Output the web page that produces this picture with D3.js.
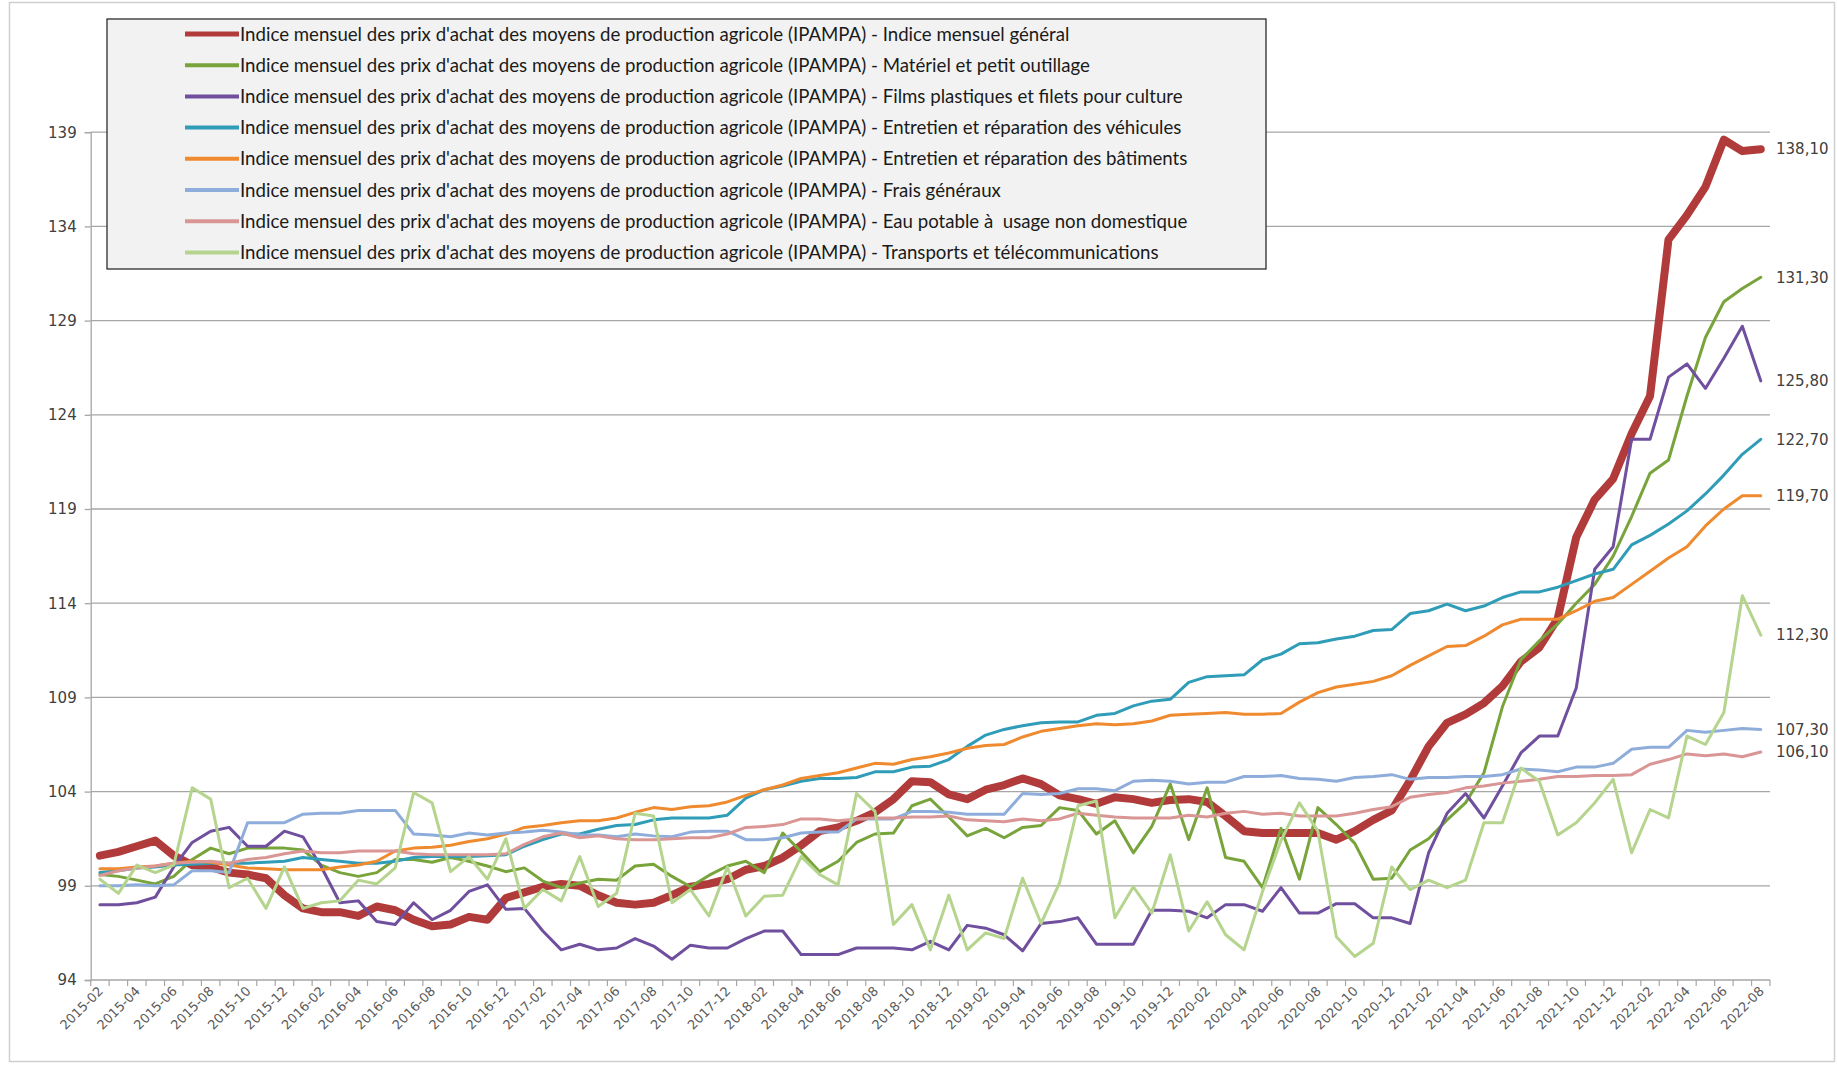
<!DOCTYPE html>
<html>
<head>
<meta charset="utf-8">
<script src="https://cdn.jsdelivr.net/npm/d3@7"></script>
<style>
  body { margin: 0; background: #fff; }
</style>
</head>
<body>
<script>
// months from 2015-02 to 2022-08
const months = d3.timeMonth.range(new Date(2015, 1, 1), new Date(2022, 8, 1)).map(d3.timeFormat("%Y-%m"));
const yTicks = [94, 99, 104, 109, 114, 119, 124, 129, 134, 139];

const prefix = "Indice mensuel des prix d'achat des moyens de production agricole (IPAMPA) - ";
const seriesNames = [
  "Indice mensuel général",
  "Matériel et petit outillage",
  "Films plastiques et filets pour culture",
  "Entretien et réparation des véhicules",
  "Entretien et réparation des bâtiments",
  "Frais généraux",
  "Eau potable à  usage non domestique",
  "Transports et télécommunications"
];

const general = [100.6,100.8,101.1,101.4,100.6,100.1,100.0,99.7,99.6,99.4,98.5,97.8,97.6,97.6,97.4,97.9,
  97.7,97.2,96.85,96.95,97.35,97.2,98.35,98.65,98.95,99.1,99.0,98.5,98.1,98.0,98.1,98.5,
  98.95,99.1,99.35,99.85,100.05,100.5,101.15,101.9,102.1,102.45,102.9,103.6,104.55,104.5,103.85,103.6,
  104.1,104.35,104.7,104.4,103.8,103.6,103.35,103.7,103.6,103.4,103.55,103.6,103.45,102.7,101.9,101.8,
  101.8,101.8,101.8,101.45,101.9,102.5,103.0,104.6,106.4,107.65,108.1,108.7,109.6,110.9,111.65,113.2,
  117.5,119.5,120.6,123.0,125.0,133.3,134.6,136.1,138.6,138.0,138.1];

const materiel = [99.6,99.5,99.3,99.1,99.5,100.4,101.0,100.7,101.0,101.0,101.0,100.9,100.1,99.7,99.5,99.7,
  100.4,100.4,100.25,100.5,100.3,100.05,99.75,99.95,99.25,98.9,99.15,99.35,99.3,100.05,100.15,99.5,
  98.95,99.55,100.05,100.3,99.7,101.8,100.8,99.75,100.3,101.3,101.75,101.8,103.25,103.6,102.65,101.65,
  102.05,101.55,102.1,102.2,103.15,103.0,101.75,102.45,100.75,102.15,104.4,101.45,104.2,100.5,100.3,98.9,
  102.05,99.35,103.15,102.25,101.25,99.35,99.4,100.9,101.5,102.5,103.4,105.0,108.5,111.0,112.0,112.9,
  114.0,115.0,116.5,118.6,120.9,121.6,125.0,128.1,130.0,130.7,131.3];

const films = [98.0,98.0,98.1,98.4,100.0,101.3,101.9,102.1,101.1,101.1,101.9,101.6,100.0,98.1,98.2,97.1,
  96.95,98.1,97.2,97.7,98.7,99.05,97.75,97.8,96.6,95.6,95.9,95.6,95.7,96.2,95.8,95.1,
  95.85,95.7,95.7,96.2,96.6,96.6,95.35,95.35,95.35,95.7,95.7,95.7,95.6,96.05,95.6,96.9,
  96.75,96.4,95.55,97.0,97.1,97.3,95.9,95.9,95.9,97.7,97.7,97.65,97.3,98.0,98.0,97.65,
  98.9,97.55,97.55,98.05,98.05,97.3,97.3,97.0,100.75,102.85,103.9,102.6,104.3,106.05,106.95,106.95,
  109.5,115.8,117.0,122.7,122.7,126.0,126.7,125.4,127.0,128.7,125.8];

const vehicules = [99.7,99.8,99.95,100.0,100.1,100.15,100.2,100.2,100.2,100.25,100.3,100.5,100.4,100.3,100.2,100.2,
  100.3,100.5,100.55,100.55,100.55,100.6,100.65,101.1,101.45,101.75,101.75,102.0,102.2,102.25,102.5,102.6,
  102.6,102.6,102.75,103.65,104.1,104.3,104.55,104.7,104.7,104.75,105.05,105.05,105.3,105.35,105.7,106.4,
  107.0,107.3,107.5,107.65,107.7,107.7,108.05,108.15,108.55,108.8,108.9,109.8,110.1,110.15,110.2,111.0,
  111.3,111.85,111.9,112.1,112.25,112.55,112.6,113.45,113.6,113.95,113.6,113.85,114.3,114.6,114.6,114.85,
  115.2,115.55,115.8,117.1,117.6,118.2,118.9,119.8,120.8,121.9,122.7];

const batiments = [99.9,99.9,100.0,100.05,100.2,100.3,100.25,100.1,99.95,99.9,99.85,99.85,99.85,100.0,100.1,100.3,
  100.85,101.0,101.05,101.15,101.35,101.5,101.75,102.1,102.2,102.35,102.45,102.45,102.6,102.9,103.15,103.05,
  103.2,103.25,103.45,103.8,104.1,104.35,104.7,104.85,105.0,105.25,105.5,105.45,105.7,105.85,106.05,106.3,
  106.45,106.5,106.9,107.2,107.35,107.5,107.6,107.55,107.6,107.75,108.05,108.1,108.15,108.2,108.1,108.1,
  108.15,108.75,109.25,109.55,109.7,109.85,110.15,110.7,111.2,111.7,111.75,112.25,112.85,113.15,113.15,113.15,
  113.6,114.1,114.3,115.0,115.7,116.4,117.0,118.1,119.0,119.7,119.7];

const fraisGeneraux = [99.0,99.0,99.05,99.0,99.05,99.8,99.8,99.7,102.35,102.35,102.35,102.8,102.85,102.85,103.0,103.0,
  103.0,101.75,101.7,101.6,101.8,101.7,101.8,101.85,101.95,101.85,101.7,101.7,101.6,101.75,101.65,101.6,
  101.85,101.9,101.9,101.45,101.45,101.55,101.8,101.85,101.85,102.55,102.55,102.55,102.95,102.95,102.9,102.8,
  102.8,102.8,103.9,103.85,103.9,104.15,104.15,104.05,104.55,104.6,104.55,104.4,104.5,104.5,104.8,104.8,
  104.85,104.7,104.65,104.55,104.75,104.8,104.9,104.65,104.75,104.75,104.8,104.8,104.9,105.2,105.15,105.05,
  105.3,105.3,105.5,106.25,106.35,106.35,107.25,107.15,107.25,107.35,107.3];

const eauPotable = [99.55,99.8,99.95,100.05,100.2,100.25,100.3,100.2,100.4,100.5,100.7,100.85,100.75,100.75,100.85,100.85,
  100.85,100.7,100.65,100.65,100.65,100.65,100.7,101.2,101.6,101.8,101.55,101.65,101.5,101.45,101.45,101.5,
  101.55,101.55,101.75,102.1,102.15,102.25,102.55,102.55,102.45,102.55,102.6,102.6,102.65,102.65,102.7,102.5,
  102.45,102.4,102.55,102.45,102.55,102.85,102.75,102.65,102.6,102.6,102.6,102.75,102.65,102.85,102.95,102.8,
  102.85,102.7,102.7,102.7,102.85,103.05,103.2,103.7,103.85,103.95,104.2,104.3,104.45,104.55,104.65,104.8,
  104.8,104.85,104.85,104.9,105.45,105.7,106.0,105.9,106.0,105.85,106.1];

const transports = [99.35,98.6,100.1,99.7,100.1,104.2,103.6,98.9,99.4,97.8,100.0,97.8,98.1,98.2,99.3,99.1,
  99.95,103.95,103.4,99.75,100.55,99.35,101.5,97.8,98.8,98.2,100.55,97.9,98.6,102.85,102.7,98.1,
  98.8,97.4,100.0,97.4,98.45,98.5,100.55,99.6,99.05,103.9,102.95,96.95,98.0,95.6,98.5,95.6,
  96.5,96.2,99.4,97.0,99.15,103.25,103.5,97.3,98.95,97.55,100.65,96.6,98.15,96.4,95.6,98.7,
  101.4,103.4,101.9,96.3,95.25,95.95,100.0,98.8,99.3,98.9,99.3,102.35,102.35,105.25,104.55,101.7,
  102.35,103.4,104.65,100.75,103.05,102.6,106.95,106.5,108.2,114.4,112.3];

const seriesValues = [general, materiel, films, vehicules, batiments, fraisGeneraux, eauPotable, transports];
const seriesColors = ["#b03b3a", "#78a43b", "#6f4f9e", "#2f9cb8", "#ef8a2f", "#8eaddb", "#d99694", "#b5d48d"];
const seriesWidths = [8, 3, 3, 3, 3, 3, 3, 3];

const width = 1837, height = 1066;
const plot = { left: 90.7, right: 1770, top: 132.2, bottom: 980 };

const svg = d3.select("body").append("svg")
    .attr("width", width)
    .attr("height", height)
    .style("display", "block");

// outer frame
svg.append("rect")
    .attr("x", 9.5).attr("y", 2.5)
    .attr("width", 1825).attr("height", 1059)
    .attr("fill", "#fff")
    .attr("stroke", "#d0d0d0")
    .attr("stroke-width", 1.5);

const x = d3.scalePoint()
    .domain(months)
    .range([plot.left, plot.right])
    .padding(0.5);

const y = d3.scaleLinear()
    .domain([94, 139])
    .range([plot.bottom, plot.top]);

// horizontal gridlines
svg.append("g")
  .selectAll("line")
  .data(yTicks.slice(1))
  .join("line")
    .attr("x1", plot.left).attr("x2", plot.right)
    .attr("y1", d => y(d)).attr("y2", d => y(d))
    .attr("stroke", "#a6a6a6")
    .attr("stroke-width", 1.3);

// y axis
const yAxis = svg.append("g")
    .attr("transform", `translate(${plot.left},0)`)
    .call(d3.axisLeft(y).tickValues(yTicks).tickSize(6).tickPadding(8).tickFormat(d3.format("d")));
yAxis.select(".domain").attr("stroke", "#a6a6a6").attr("stroke-width", 1.3);
yAxis.selectAll(".tick line").attr("stroke", "#a6a6a6").attr("stroke-width", 1.3);
yAxis.selectAll(".tick text")
    .attr("font-family", "DejaVu Sans, sans-serif")
    .attr("font-size", 15)
    .attr("fill", "#404040");

// x axis
const step = x.step();
const xAxis = svg.append("g");
xAxis.append("line")
    .attr("x1", plot.left).attr("x2", plot.right)
    .attr("y1", plot.bottom).attr("y2", plot.bottom)
    .attr("stroke", "#a6a6a6")
    .attr("stroke-width", 1.3);
xAxis.selectAll("line.tk")
  .data(months.concat(["end"]))
  .join("line")
    .attr("class", "tk")
    .attr("x1", (d, i) => plot.left + i * step)
    .attr("x2", (d, i) => plot.left + i * step)
    .attr("y1", plot.bottom).attr("y2", plot.bottom + 6)
    .attr("stroke", "#a6a6a6")
    .attr("stroke-width", 1.2);
xAxis.selectAll("text")
  .data(months.filter((d, i) => i % 2 === 0))
  .join("text")
    .attr("transform", d => `translate(${x(d) + 4},${plot.bottom + 12}) rotate(-45)`)
    .attr("text-anchor", "end")
    .attr("font-family", "DejaVu Sans, sans-serif")
    .attr("font-size", 13)
    .attr("fill", "#595959")
    .text(d => d);

// series lines, legend order (first at the bottom)
const line = d3.line()
    .x((d, i) => x(months[i]))
    .y(d => y(d));

svg.append("g")
  .selectAll("path")
  .data(seriesValues)
  .join("path")
    .attr("d", d => line(d))
    .attr("fill", "none")
    .attr("stroke", (d, i) => seriesColors[i])
    .attr("stroke-width", (d, i) => seriesWidths[i])
    .attr("stroke-linejoin", "round")
    .attr("stroke-linecap", "round");

// end labels
const fmt = v => d3.format(".2f")(v).replace(".", ",");
svg.append("g")
  .selectAll("text")
  .data(seriesValues)
  .join("text")
    .attr("x", plot.right + 6)
    .attr("y", d => y(d[d.length - 1]))
    .attr("dy", "0.35em")
    .attr("font-family", "DejaVu Sans, sans-serif")
    .attr("font-size", 15)
    .attr("fill", "#404040")
    .text(d => fmt(d[d.length - 1]));

// legend
const legend = svg.append("g");
legend.append("rect")
    .attr("x", 107).attr("y", 19)
    .attr("width", 1159).attr("height", 250)
    .attr("fill", "#f2f2f2")
    .attr("stroke", "#2b2b2b")
    .attr("stroke-width", 1.3);

const rows = legend.selectAll("g")
  .data(seriesNames)
  .join("g")
    .attr("transform", (d, i) => `translate(0,${34 + i * 31.2})`);

rows.append("line")
    .attr("x1", 185).attr("x2", 239)
    .attr("stroke", (d, i) => seriesColors[i])
    .attr("stroke-width", (d, i) => i === 0 ? 5 : 4);

const legendText = rows.append("text")
    .attr("x", 240)
    .attr("dy", "0.35em")
    .attr("font-family", "Lato, sans-serif")
    .attr("font-size", 16)
    .attr("fill", "#1a1a1a")
    .style("white-space", "pre")
    .text(d => prefix + d);

// fit legend font so first row spans the same width as the reference
const w0 = legendText.node().getComputedTextLength();
legendText.attr("font-size", 16 * 830 / w0);
</script>
</body>
</html>
